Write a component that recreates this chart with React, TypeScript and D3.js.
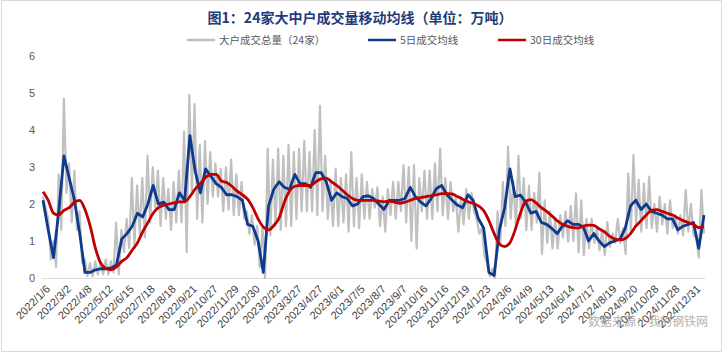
import React, { useEffect, useRef } from "react";
import * as d3 from "d3";

// x-axis category labels (every 4th sample of the MA series)
const dateLabels = [
  "2022/1/6", "2022/3/2", "2022/4/8", "2022/5/12", "2022/6/15", "2022/7/18",
  "2022/8/18", "2022/9/21", "2022/10/27", "2022/11/29", "2022/12/30", "2023/2/22",
  "2023/3/27", "2023/4/27", "2023/6/1", "2023/7/5", "2023/8/7", "2023/9/7",
  "2023/10/16", "2023/11/16", "2023/12/19", "2024/1/23", "2024/3/6", "2024/4/9",
  "2024/5/13", "2024/6/14", "2024/7/17", "2024/8/19", "2024/9/20", "2024/10/28",
  "2024/11/28", "2024/12/31",
];

const yTicks = [0, 1, 2, 3, 4, 5, 6];

// 5日成交均线 (sampled about every 5 trading days)
const ma5 = [
  2.1, 1.3, 0.55, 1.8, 3.3, 2.7, 2.1, 1.2, 0.15, 0.15, 0.22, 0.25, 0.25, 0.27, 0.35, 1.05,
  1.2, 1.4, 1.75, 1.65, 2.0, 2.5, 2.0, 2.05, 1.85, 1.85, 2.3, 2.1, 3.85, 2.9, 2.3, 2.95,
  2.75, 2.55, 2.45, 2.25, 2.25, 2.2, 2.1, 1.45, 1.4, 1.0, 0.15, 1.95, 2.4, 2.6, 2.45, 2.4,
  2.8, 2.55, 2.55, 2.45, 2.85, 2.85, 2.6, 2.1, 2.3, 2.2, 2.15, 1.95, 2.0, 2.2, 2.22, 2.15,
  2.0, 1.85, 2.1, 2.1, 2.1, 2.15, 2.45, 2.2, 2.05, 1.95, 2.15, 2.42, 2.5, 2.25, 2.1, 1.97,
  1.9, 2.25, 2.1, 1.6, 1.35, 0.15, 0.07, 1.3, 1.9, 2.95, 2.2, 2.24, 2.05, 1.75, 1.8, 1.5,
  1.45, 1.34, 1.2, 1.4, 1.55, 1.45, 1.45, 1.38, 1.0, 1.2, 1.0, 0.85, 0.95, 1.0, 1.05, 1.35,
  1.95, 2.1, 1.85, 2.0, 1.8, 1.75, 1.7, 1.6, 1.6, 1.3, 1.4, 1.45, 1.5, 0.8, 1.7,
];

// 30日成交均线
const ma30 = [
  2.33, 2.1, 1.75, 1.7, 1.83, 1.9, 2.05, 2.1, 1.85, 1.4, 0.8, 0.4, 0.26, 0.22, 0.3, 0.45,
  0.55, 0.75, 0.95, 1.25, 1.5, 1.75, 1.9, 1.97, 2.0, 2.03, 2.06, 2.06, 2.2, 2.4, 2.55, 2.72,
  2.8, 2.8, 2.62, 2.58, 2.48, 2.35, 2.25, 2.13, 1.9, 1.6, 1.38, 1.3, 1.42, 1.62, 2.05, 2.35,
  2.48, 2.5, 2.5, 2.5, 2.6, 2.68, 2.7, 2.6, 2.5, 2.38, 2.25, 2.15, 2.1, 2.1, 2.1, 2.1,
  2.08, 2.06, 2.08, 2.05, 2.02, 2.05, 2.1, 2.15, 2.17, 2.2, 2.22, 2.25, 2.28, 2.28, 2.27, 2.2,
  2.13, 2.06, 2.02, 1.95, 1.82, 1.55, 1.2, 0.92, 0.85, 0.95, 1.3, 1.75, 2.07, 2.12, 2.03, 1.9,
  1.8, 1.68, 1.55, 1.45, 1.4, 1.36, 1.35, 1.4, 1.43, 1.42, 1.33, 1.25, 1.13, 1.05, 1.03, 1.07,
  1.2, 1.4, 1.55, 1.7, 1.83, 1.85, 1.8, 1.75, 1.7, 1.62, 1.55, 1.5, 1.45, 1.36, 1.38,
];

// 大户成交总量（24家）, read as alternating peaks / troughs
const dailyTotal = [
  2.2, 1.9, 1.6, 0.5, 1.0, 0.3, 2.8, 1.3, 4.85, 2.3, 3.1, 1.5, 2.9, 1.3, 1.8, 0.4,
  0.5, 0.05, 0.4, 0.05, 0.45, 0.1, 0.4, 0.1, 0.5, 0.1, 0.45, 0.15, 1.5, 0.1, 1.3, 0.7,
  1.6, 0.8, 2.7, 0.9, 2.5, 1.2, 2.7, 1.1, 3.3, 1.5, 3.0, 1.9, 2.9, 1.4, 2.7, 1.6,
  2.4, 1.3, 2.6, 1.5, 2.9, 1.5, 3.95, 0.7, 4.95, 2.3, 4.7, 1.6, 3.6, 1.5, 3.7, 2.0,
  3.4, 2.2, 3.1, 2.2, 2.95, 1.8, 3.0, 1.85, 3.2, 1.7, 2.8, 1.7, 2.6, 1.6, 1.8, 1.2,
  1.7, 0.9, 1.4, 0.3, 1.4, 0.0, 3.5, 1.15, 3.2, 1.4, 3.5, 1.3, 3.3, 1.4, 3.6, 1.4,
  3.4, 1.6, 3.5, 1.8, 3.7, 1.8, 3.4, 1.8, 4.0, 1.7, 4.65, 1.8, 3.3, 1.6, 2.6, 1.4,
  2.96, 1.4, 2.7, 1.5, 2.8, 1.25, 3.4, 1.4, 2.7, 1.35, 2.8, 1.6, 2.6, 1.6, 2.4, 1.9,
  2.45, 1.4, 2.2, 1.25, 2.4, 1.7, 2.6, 1.6, 2.6, 1.8, 3.05, 1.5, 3.0, 1.0, 3.05, 0.8,
  2.7, 1.8, 2.9, 1.6, 2.9, 1.6, 3.1, 1.8, 3.5, 1.7, 2.7, 1.6, 2.6, 1.8, 2.2, 1.25,
  2.2, 1.45, 2.4, 1.6, 2.3, 1.8, 1.6, 1.2, 1.35, 0.6, 0.4, 0.05, 0.25, 0.0, 1.8, 0.9,
  2.6, 1.4, 3.55, 1.6, 2.6, 1.4, 3.3, 1.6, 2.7, 1.3, 2.5, 1.3, 2.3, 1.5, 2.85, 0.65,
  2.1, 0.95, 1.8, 0.8, 1.6, 0.8, 1.7, 1.1, 1.8, 0.98, 1.95, 1.0, 2.29, 0.7, 2.1, 0.62,
  1.6, 0.8, 1.6, 0.95, 1.35, 0.75, 1.3, 0.62, 1.52, 0.85, 1.2, 0.95, 1.6, 0.95, 1.35, 0.65,
  2.82, 1.2, 3.32, 1.45, 2.65, 1.25, 2.55, 1.35, 2.74, 1.35, 2.0, 1.25, 2.2, 1.45, 2.0, 1.2,
  2.1, 1.35, 1.7, 1.2, 1.7, 1.15, 2.38, 1.25, 2.0, 1.15, 1.1, 0.55, 2.38, 1.2,
];

const W = 726;
const H = 354;
const fontCN = "'Noto Sans CJK SC', 'Microsoft YaHei', sans-serif";
const fontNum = "'Liberation Sans', Arial, sans-serif";

const App = () => {
  const svgRef = useRef<SVGSVGElement>(null);

  useEffect(() => {
    const svg = d3.select(svgRef.current);
    svg.selectAll("*").remove();

    const left = 43;
    const right = 704;
    const bottom = 278;
    const top = 56;

    const n = ma5.length - 1;
    const x = d3.scaleLinear().domain([0, n]).range([left, right]);
    const y = d3.scaleLinear().domain([0, 6]).range([bottom, top]);
    const xGray = d3
      .scaleLinear()
      .domain([0, dailyTotal.length - 1])
      .range([left, right]);

    // frame
    svg
      .append("rect")
      .attr("x", 1.5)
      .attr("y", 0.5)
      .attr("width", 720)
      .attr("height", 351)
      .attr("fill", "#fff")
      .attr("stroke", "#d9d9d9");

    // title
    svg
      .append("text")
      .attr("x", 360)
      .attr("y", 23)
      .attr("text-anchor", "middle")
      .style("font-family", fontCN)
      .style("font-size", "14px")
      .style("font-weight", "bold")
      .attr("fill", "#1f3b7a")
      .text("图1：24家大中户成交量移动均线（单位：万吨）");

    // legend
    const legendItems = [
      { label: "大户成交总量（24家）", color: "#c0c0c0", x: 187 },
      { label: "5日成交均线", color: "#0d3a8c", x: 368 },
      { label: "30日成交均线", color: "#c00000", x: 498 },
    ];
    legendItems.forEach(item => {
      const g = svg.append("g").attr("transform", `translate(${item.x},40)`);
      g.append("line")
        .attr("x1", 0)
        .attr("x2", 28)
        .attr("stroke", item.color)
        .attr("stroke-width", 2.5);
      g.append("text")
        .attr("x", 32)
        .attr("dy", "0.35em")
        .style("font-family", fontCN)
        .style("font-size", "10.5px")
        .attr("fill", "#595959")
        .text(item.label);
    });

    // y labels
    svg
      .append("g")
      .selectAll("text")
      .data(yTicks)
      .enter()
      .append("text")
      .attr("x", 35)
      .attr("y", d => y(d))
      .attr("dy", "0.35em")
      .attr("text-anchor", "end")
      .style("font-family", fontNum)
      .style("font-size", "11px")
      .attr("fill", "#595959")
      .text(d => d);

    // x axis line
    svg
      .append("line")
      .attr("x1", left - 1)
      .attr("x2", right + 1)
      .attr("y1", bottom + 0.5)
      .attr("y2", bottom + 0.5)
      .attr("stroke", "#d9d9d9");

    // x labels
    svg
      .append("g")
      .selectAll("text")
      .data(dateLabels)
      .enter()
      .append("text")
      .attr("transform", (d, i) => `translate(${x(i * 4) + 5},${bottom + 9}) rotate(-45)`)
      .attr("text-anchor", "end")
      .attr("dy", "0.35em")
      .style("font-family", fontNum)
      .style("font-size", "11px")
      .attr("fill", "#404040")
      .text(d => d);

    // watermark
    svg
      .append("text")
      .attr("x", 648)
      .attr("y", 326)
      .attr("text-anchor", "middle")
      .style("font-family", fontCN)
      .style("font-size", "12px")
      .attr("fill", "#a6a6a6")
      .attr("opacity", 0.85)
      .text("数据来源：我的钢铁网");

    // series
    const grayLine = d3
      .line<number>()
      .x((d, i) => xGray(i))
      .y(d => y(d));
    const maLine = d3
      .line<number>()
      .x((d, i) => x(i))
      .y(d => y(d));

    svg
      .append("path")
      .datum(dailyTotal)
      .attr("fill", "none")
      .attr("stroke", "#c0c0c0")
      .attr("stroke-width", 2.2)
      .attr("stroke-linejoin", "round")
      .attr("d", grayLine);

    svg
      .append("path")
      .datum(ma5)
      .attr("fill", "none")
      .attr("stroke", "#0d3a8c")
      .attr("stroke-width", 2.8)
      .attr("stroke-linejoin", "round")
      .attr("d", maLine);

    svg
      .append("path")
      .datum(ma30)
      .attr("fill", "none")
      .attr("stroke", "#c00000")
      .attr("stroke-width", 2.8)
      .attr("stroke-linejoin", "round")
      .attr("d", maLine.curve(d3.curveMonotoneX));
  }, []);

  return (
    <svg
      ref={svgRef}
      width={W}
      height={H}
      style={{ position: "absolute", left: 0, top: 0, background: "#fff" }}
    ></svg>
  );
};

export default App;
